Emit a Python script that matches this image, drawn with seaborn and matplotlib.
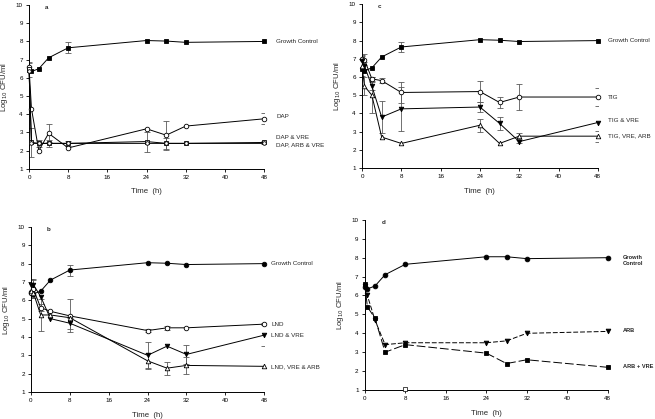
import matplotlib
matplotlib.use("Agg")
import matplotlib.pyplot as plt
import seaborn as sns
import numpy as np

sns.set_theme(style="ticks")
plt.rcParams['font.family'] = ['Liberation Sans', 'DejaVu Sans']

# ---------------- data ----------------
time_h = [0, 0.5, 2, 4, 8, 24, 28, 32, 48]
x_ticks = [0, 8, 16, 24, 32, 40, 48]
y_ticks = [1, 2, 3, 4, 5, 6, 7, 8, 9, 10]

growth = [6.45, 6.35, 6.5, 7.1, 7.65, 8.05, 8.02, 7.95, 8.0]
growth_err = [0.4, 0, 0, 0, 0.3, 0, 0, 0, 0]
growth_b_err = [0.35, 0, 0, 0, 0.3, 0, 0, 0, 0]

# panel a
dap = [6.6, 4.3, 2.0, 2.95, 2.15, 3.2, 2.85, 3.35, 3.75]
dap_err = [0.2, 0, 0, 0.5, 0, 0, 0.8, 0, 0.3]
dap_vre = [6.5, 2.45, 2.4, 2.4, 2.4, 2.5, 2.4, 2.4, 2.45]
dap_vre_err = [0, 0.8, 0.2, 0.2, 0.15, 0.55, 0.3, 0, 0.1]
dap_arb_vre = [6.4, 2.4, 2.4, 2.4, 2.4, 2.4, 2.4, 2.4, 2.4]
dap_arb_vre_err = [0, 0, 0, 0, 0, 0, 0, 0, 0]

# panel b
lnd = [6.4, 6.6, 5.6, 5.4, 5.15, 4.35, 4.5, 4.5, 4.7]
lnd_err = [0.2, 0.5, 0.2, 0, 0.9, 0.1, 0.1, 0, 0.05]
lnd_vre = [6.85, 6.85, 6.2, 5.0, 4.75, 3.0, 3.5, 3.05, 4.1]
lnd_vre_err = [0.3, 0.3, 0, 0, 0.3, 0.7, 0, 0.5, 0.6]
lnd_vre_arb = [6.5, 6.4, 5.2, 5.2, 5.05, 2.7, 2.3, 2.45, 2.4]
lnd_vre_arb_err = [0, 0, 0.85, 0, 0, 0.45, 0.35, 0.45, 0]

# panel c
tig = [7.0, 6.95, 5.9, 5.8, 5.15, 5.2, 4.6, 4.9, 4.9]
tig_err = [0.2, 0.3, 0.1, 0.15, 0.6, 0.6, 0.3, 0.7, 0.5]
tig_vre = [6.9, 6.6, 5.5, 3.8, 4.25, 4.35, 3.45, 2.45, 3.5]
tig_vre_err = [0.25, 0.2, 0.2, 0.9, 1.2, 0.3, 0.35, 0.1, 0]
tig_vre_arb = [6.6, 5.5, 5.0, 2.7, 2.35, 3.35, 2.35, 2.75, 2.75]
tig_vre_arb_err = [0.3, 0.5, 1.0, 0, 0, 0.35, 0, 0.15, 0.3]

# panel d
growth_d = [6.45, 6.35, 6.5, 7.1, 7.65, 8.05, 8.05, 7.95, 8.0]
arb = [6.5, 6.0, 4.7, 3.4, 3.5, 3.5, 3.6, 4.0, 4.1]
arb_vre = [6.6, 5.4, 4.8, 3.0, 3.4, 2.95, 2.4, 2.6, 2.2]
stray_t = [8]
stray_y = [1.05]

# ---------------- figure ----------------
fig = plt.figure(figsize=(6.55, 4.19), dpi=100)
ax_a = fig.add_axes([0.0443, 0.597, 0.359, 0.391])
ax_c = fig.add_axes([0.5527, 0.599, 0.360, 0.391])
ax_b = fig.add_axes([0.0473, 0.0644, 0.356, 0.394])
ax_d = fig.add_axes([0.557, 0.0692, 0.371, 0.406])

FS = 4.5
LFS = 5.6


def style(ax, letter):
    ax.set_xlim(0, 48)
    ax.set_ylim(1, 10)
    ax.set_xticks(x_ticks)
    ax.set_yticks(y_ticks)
    ax.tick_params(axis='both', labelsize=FS, length=2.5, width=0.6, pad=2,
                   colors='black')
    for s in ['top', 'right']:
        ax.spines[s].set_visible(False)
    for s in ['left', 'bottom']:
        ax.spines[s].set_linewidth(0.7)
        ax.spines[s].set_color('black')
    ax.set_xlabel('Time  (h)', fontsize=LFS, labelpad=6)
    ax.set_ylabel('Log$_{10}$ CFU/ml', fontsize=LFS, labelpad=4)
    ax.text(3.3, 9.85, letter, fontsize=FS, fontweight='bold', ha='left',
            va='center')
    ax.set_facecolor('white')


def series(ax, y, err=None, marker='o', filled=True, ls='-', dashes=None,
           ms=3.3, lw=0.7):
    kw = dict(x=time_h, y=y, ax=ax, color='black', marker=marker,
              markersize=ms, markerfacecolor='black' if filled else 'white',
              markeredgecolor='black', markeredgewidth=0.6, linewidth=lw,
              linestyle=ls, estimator=None, sort=False, legend=False)
    line = sns.lineplot(**kw)
    ln = ax.lines[-1]
    ln.set_clip_on(False)
    ln.set_zorder(3)
    if dashes is not None:
        ln.set_dashes(dashes)
    if err is not None:
        e = np.asarray(err, dtype=float)
        m = e > 0
        if m.any():
            ax.errorbar(np.asarray(time_h)[m], np.asarray(y)[m], yerr=e[m],
                        fmt='none', ecolor='0.35', elinewidth=0.6,
                        capsize=2.2, capthick=0.6, zorder=2)
    return line


# panel a
series(ax_a, growth, growth_err, marker='s', filled=True)
series(ax_a, dap, dap_err, marker='o', filled=False)
series(ax_a, dap_vre, dap_vre_err, marker='s', filled=False, ms=2.8)
series(ax_a, dap_arb_vre, dap_arb_vre_err, marker='o', filled=False, ms=2.6)
style(ax_a, 'a')
ax_a.text(50.5, 8.0, 'Growth Control', fontsize=FS, va='center')
ax_a.text(50.5, 3.85, 'DAP', fontsize=FS, va='center')
ax_a.text(50.5, 2.72, 'DAP & VRE', fontsize=FS, va='center')
ax_a.text(50.5, 2.35, 'DAP, ARB & VRE', fontsize=FS, va='center')

# panel c
series(ax_c, growth, growth_err, marker='s', filled=True)
series(ax_c, tig, tig_err, marker='o', filled=False)
series(ax_c, tig_vre, tig_vre_err, marker='v', filled=True)
series(ax_c, tig_vre_arb, tig_vre_arb_err, marker='^', filled=False)
style(ax_c, 'c')
for yv, txt in [(8.0, 'Growth Control'), (4.9, 'TIG'), (3.6, 'TIG & VRE'),
                (2.75, 'TIG, VRE, ARB')]:
    ax_c.text(50.0, yv, txt, fontsize=FS, va='center')

# panel b
series(ax_b, growth, growth_b_err, marker='o', filled=True)
series(ax_b, lnd, lnd_err, marker='o', filled=False)
series(ax_b, lnd_vre, lnd_vre_err, marker='v', filled=True)
series(ax_b, lnd_vre_arb, lnd_vre_arb_err, marker='^', filled=False)
style(ax_b, 'b')
ax_b.text(49.5, 8.0, 'Growth Control', fontsize=FS, va='center')
ax_b.text(49.5, 4.7, 'LND', fontsize=FS, va='center')
ax_b.text(49.5, 4.1, 'LND & VRE', fontsize=FS, va='center')
ax_b.text(49.5, 2.4, 'LND, VRE & ARB', fontsize=FS, va='center')

# panel d
series(ax_d, growth_d, None, marker='o', filled=True, ms=3.4)
series(ax_d, arb, None, marker='v', filled=True, ls='--', dashes=(5, 2), ms=3.4)
series(ax_d, arb_vre, None, marker='s', filled=True, ls='--', dashes=(9, 3), ms=3.4)
sns.scatterplot(x=stray_t, y=stray_y, ax=ax_d, marker='s', s=9,
                facecolor='white', edgecolor='black', linewidth=0.5,
                legend=False, clip_on=False, zorder=4)
style(ax_d, 'd')
DFS = 4.1
ax_d.text(51.0, 7.85, 'Growth\nControl', fontsize=DFS, fontweight='bold',
          va='center', linespacing=1.3)
ax_d.text(51.0, 4.15, 'ARB', fontsize=DFS, fontweight='bold', va='center')
ax_d.text(51.0, 2.25, 'ARB + VRE', fontsize=DFS, fontweight='bold',
          va='center')

fig.savefig('out.png', dpi=100, facecolor='white')
